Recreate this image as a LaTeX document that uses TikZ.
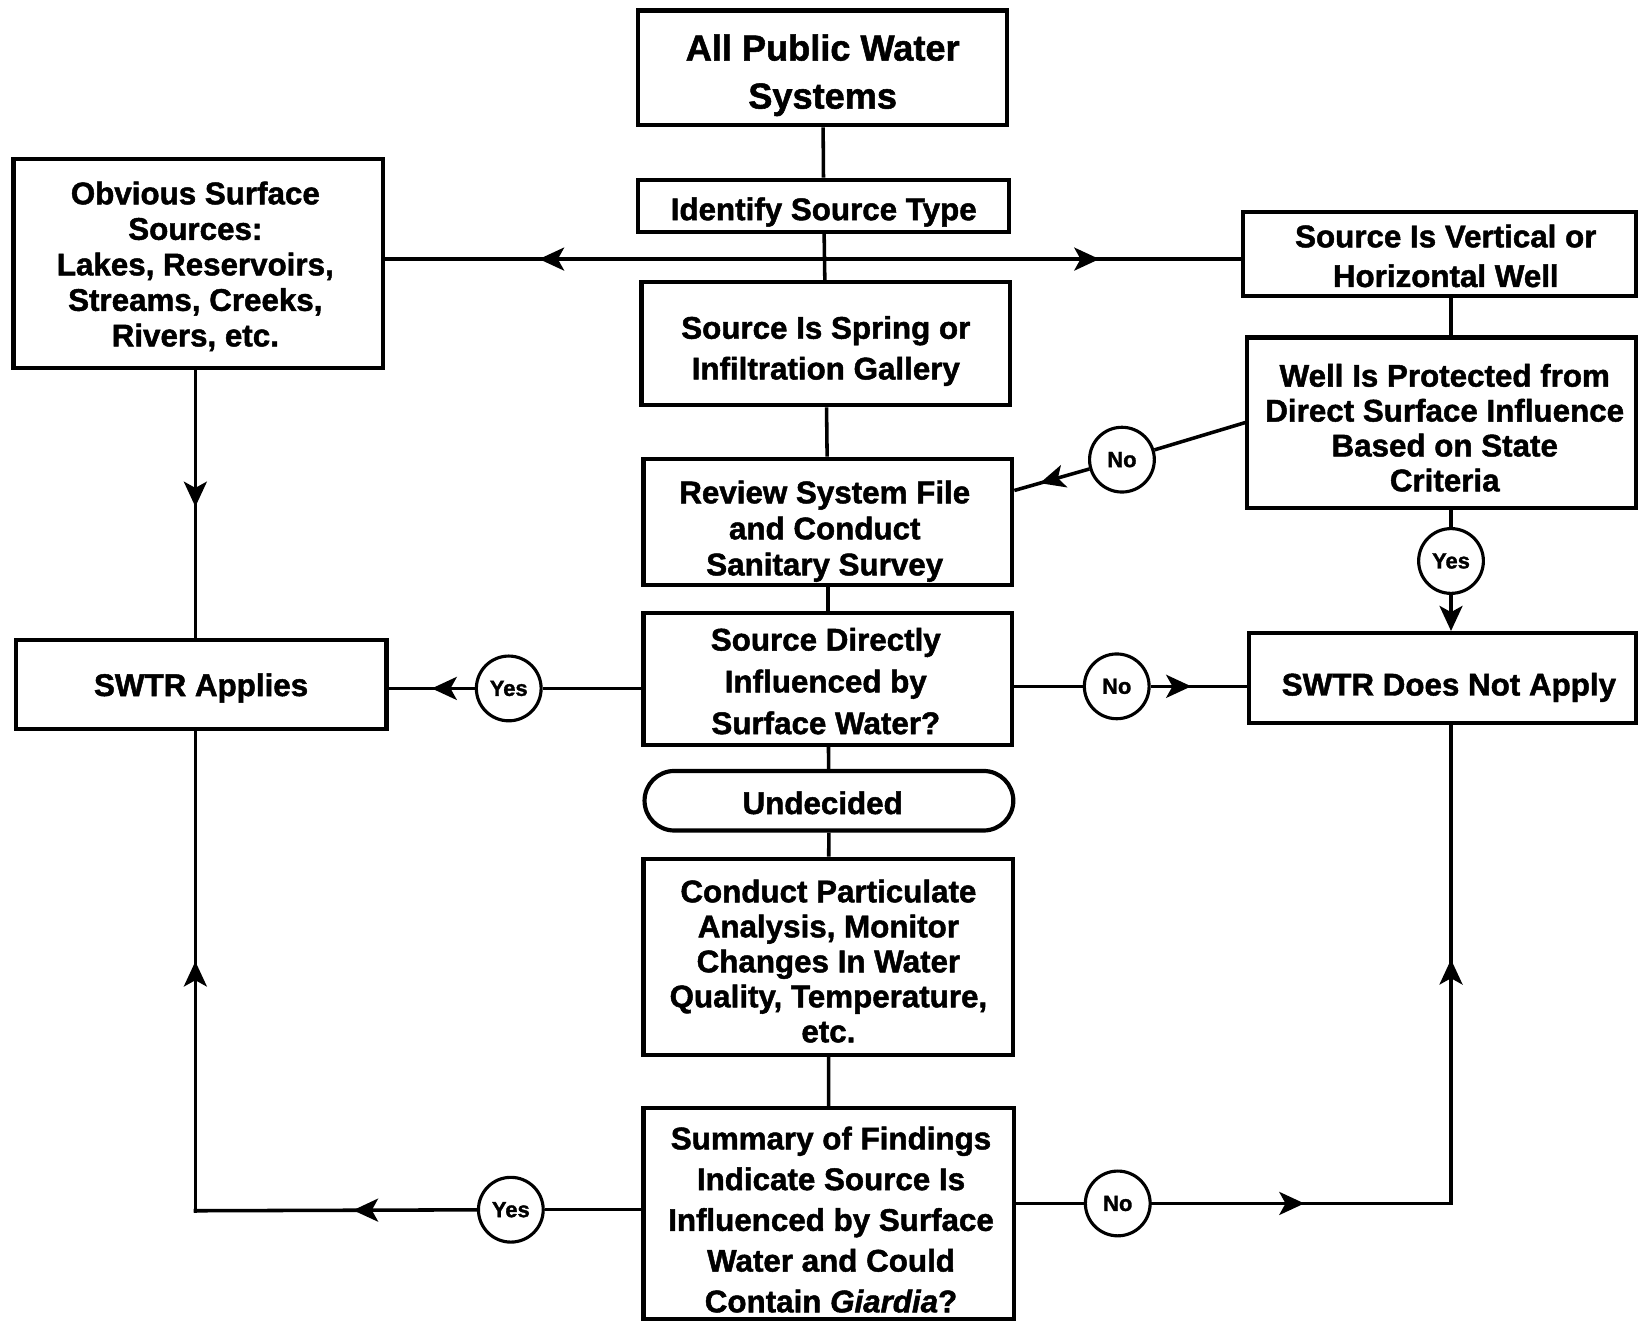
\documentclass[tikz,border=0pt]{standalone}
\usepackage{fontspec}
\setmainfont{Liberation Sans}[BoldFeatures={FakeBold=1.5},BoldItalicFeatures={FakeBold=1.5}]
\usetikzlibrary{arrows.meta,decorations.markings,calc,shapes.misc}
\tikzset{
 box/.style={draw,line width=2pt,inner sep=0pt},
 txt/.style={inner sep=0pt,align=center,font=\fontsize{15}{17}\selectfont\bfseries},
 circ/.style={draw,circle,line width=1.5pt,minimum size=31pt,inner sep=0pt,fill=white,font=\fontsize{10.5}{12}\selectfont\bfseries},
 conn/.style={line width=1.7pt},
 tipstyle/.tip={Stealth[length=12pt,width=11pt,inset=3pt]},
 midarrow/.style={postaction={decorate},decoration={markings,mark=at position #1 with {\arrow{tipstyle}}}},
 endarrow/.style={-tipstyle}
}
\begin{document}
\begin{tikzpicture}[x=0.5pt,y=-0.5pt]
\useasboundingbox (0,0) rectangle (1568,1265);
% boxes
\node[box,minimum width=176.5pt,minimum height=55pt] (apws) at (787.5,65) {};
\node[txt,font=\fontsize{17.3}{23}\selectfont\bfseries] (apwst) at ($(apws)+(0,7)$) {All Public Water\\Systems};
\node[box,minimum width=177.5pt,minimum height=25pt] (ist) at (788.5,197) {};
\node[txt] (istt) at ($(ist)+(0,6)$) {Identify Source Type};
\node[box,minimum width=177pt,minimum height=100pt] (oss) at (190,252) {};
\node[txt] (osst) at ($(oss)+(-3,3)$) {Obvious Surface\\Sources:\\Lakes, Reservoirs,\\Streams, Creeks,\\Rivers, etc.};
\node[box,minimum width=188pt,minimum height=40pt] (svhw) at (1378,243) {};
\node[txt,font=\fontsize{15}{19}\selectfont\bfseries] (svhwt) at ($(svhw)+(6,2)$) {Source Is Vertical or\\Horizontal Well};
\node[box,minimum width=176.5pt,minimum height=59pt] (spring) at (790.5,329) {};
\node[txt,font=\fontsize{15}{19.5}\selectfont\bfseries] (springt) at ($(spring)+(0,7)$) {Source Is Spring or\\Infiltration Gallery};
\node[box,minimum width=186pt,minimum height=81.5pt] (well) at (1380,404.5) {};
\node[txt,font=\fontsize{15}{16.7}\selectfont\bfseries] (wellt) at ($(well)+(3,5)$) {Well Is Protected from\\Direct Surface Influence\\Based on State\\Criteria};
\node[box,minimum width=176.5pt,minimum height=60.5pt] (review) at (792.5,499.5) {};
\node[txt,font=\fontsize{15}{17.25}\selectfont\bfseries] (reviewt) at ($(review)+(-3,9)$) {Review System File\\and Conduct\\Sanitary Survey};
\node[box,minimum width=176.5pt,minimum height=63pt] (sd) at (792.5,650) {};
\node[txt,font=\fontsize{15}{20}\selectfont\bfseries] (sdt) at ($(sd)+(-2,2)$) {Source Directly\\Influenced by\\Surface Water?};
\node[box,minimum width=177.5pt,minimum height=42.5pt] (swa) at (192.5,655.5) {};
\node[txt] (swat) at ($(swa)+(0,3)$) {SWTR Applies};
\node[box,minimum width=185pt,minimum height=43pt] (sdna) at (1381,649) {};
\node[txt] (sdnat) at ($(sdna)+(6,9)$) {SWTR Does Not Apply};
\node[box,rounded rectangle,minimum width=176.5pt,minimum height=28.5pt] (und) at (793.5,766.5) {};
\node[txt] (undt) at ($(und)+(-6,2)$) {Undecided};
\node[box,minimum width=177pt,minimum height=94pt] (cp) at (793,916) {};
\node[txt,font=\fontsize{15}{16.75}\selectfont\bfseries] (cpt) at ($(cp)+(0,4)$) {Conduct Particulate\\Analysis, Monitor\\Changes In Water\\Quality, Temperature,\\etc.};
\node[box,minimum width=177.5pt,minimum height=101pt] (sum) at (793.5,1161.5) {};
\node[txt,font=\fontsize{15}{19.5}\selectfont\bfseries] (sumt) at ($(sum)+(2,6)$) {Summary of Findings\\Indicate Source Is\\Influenced by Surface\\Water and Could\\Contain \textit{Giardia}?};
% circles
\node[circ] (no1) at (1074,440) {No};
\node[circ] (yes1) at (1389,537) {Yes};
\node[circ] (yes2) at (487,659) {Yes};
\node[circ] (no2) at (1069,657) {No};
\node[circ] (yes3) at (489,1158) {Yes};
\node[circ] (no3) at (1070,1152) {No};
\coordinate (J) at (789,248);
\coordinate (L) at (187,1159);
\coordinate (R) at (1389,1152);
% connectors
\draw[conn] (apws) -- (ist);
\draw[conn] (ist) -- (spring);
\draw[conn,midarrow=0.65] (J) -- (J -| oss.east);
\draw[conn,midarrow=0.66] (J) -- (J -| svhw.west);
\draw[conn] (svhw.south -| yes1) -- (well.north -| yes1);
\draw[conn] (well.west) -- (no1);
\draw[conn,midarrow=0.66] (no1) -- ($(review.east)+(0,-30)$);
\draw[conn] (well.south -| yes1) -- (yes1);
\draw[conn,endarrow] (yes1) -- (yes1 |- sdna.north);
\draw[conn] (spring) -- (review);
\draw[conn] (review) -- (sd);
\draw[conn] (sd) -- (und);
\draw[conn] (und) -- (cp);
\draw[conn] (cp) -- (sum);
\draw[conn] (sd.west |- yes2) -- (yes2);
\draw[conn,midarrow=0.5] (yes2) -- (yes2 -| swa.east);
\draw[conn] (sd.east |- no2) -- (no2);
\draw[conn,midarrow=0.42] (no2) -- (no2 -| sdna.west);
\draw[conn,midarrow=0.51] (L |- oss.south) -- (L |- swa.north);
\draw[conn] (sum.west |- yes3) -- (yes3);
\draw[conn,midarrow=0.44,line cap=rect] (yes3) -- (L);
\draw[conn,midarrow=0.52,line cap=rect] (L) -- (L |- swa.south);
\draw[conn] (sum.east |- no3) -- (no3);
\draw[conn,midarrow=0.51,line cap=rect] (no3) -- (R);
\draw[conn,midarrow=0.51,line cap=rect] (R) -- (R |- sdna.south);
\end{tikzpicture}
\end{document}
